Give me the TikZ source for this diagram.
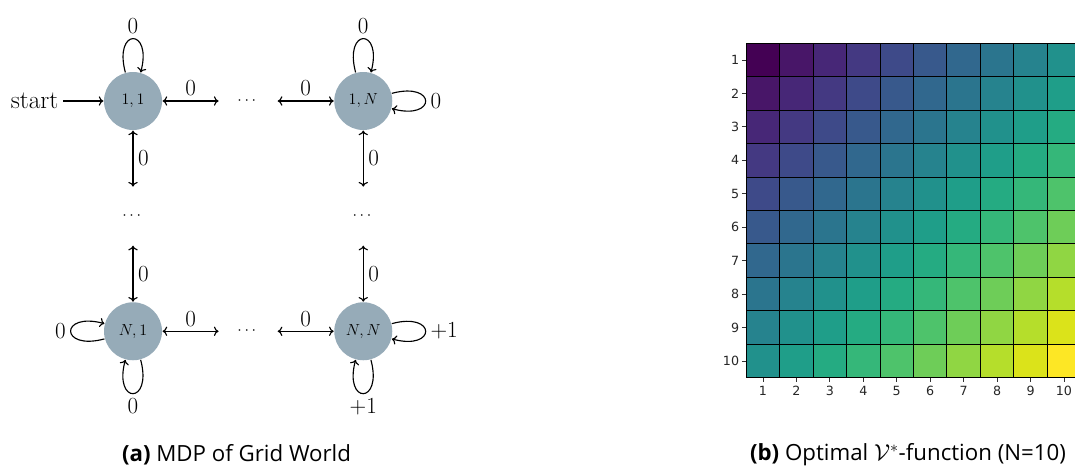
\documentclass[tikz,border=0pt]{standalone}
\usepackage{fontspec}
\usepackage{amsmath}
\usepackage{xcolor}
\usepackage{tikz}
\usetikzlibrary{arrows.meta}
\usetikzlibrary{positioning}

\newfontfamily\capfont{Open Sans}
\newfontfamily\tickfont{DejaVu Sans}

\definecolor{stategray}{RGB}{150,171,184}
\definecolor{vir0}{HTML}{440154}
\definecolor{vir1}{HTML}{481668}
\definecolor{vir2}{HTML}{472777}
\definecolor{vir3}{HTML}{443982}
\definecolor{vir4}{HTML}{3E4A89}
\definecolor{vir5}{HTML}{38598C}
\definecolor{vir6}{HTML}{31688E}
\definecolor{vir7}{HTML}{2B758E}
\definecolor{vir8}{HTML}{26838E}
\definecolor{vir9}{HTML}{21918C}
\definecolor{vir10}{HTML}{1F9E89}
\definecolor{vir11}{HTML}{25AB82}
\definecolor{vir12}{HTML}{35B779}
\definecolor{vir13}{HTML}{4EC36B}
\definecolor{vir14}{HTML}{6ECD58}
\definecolor{vir15}{HTML}{90D643}
\definecolor{vir16}{HTML}{B5DE2B}
\definecolor{vir17}{HTML}{DBE31A}
\definecolor{vir18}{HTML}{FDE725}

\tikzset{
    state/.style={circle, fill=stategray, minimum size=43.5pt, inner sep=0pt,
        font=\fontsize{11.6}{13}\selectfont},
    gapnode/.style={circle, minimum size=43.5pt, inner sep=0pt,
        font=\fontsize{11.6}{13}\selectfont},
    lbl/.style={font=\fontsize{19}{23}\selectfont},
    selfloop/.style={->, looseness=7.8, min distance=3mm},
    cell/.style={draw=black, line width=0.75pt},
    tickmark/.style={line width=0.6pt, black!80},
    ticklbl/.style={font=\tickfont\fontsize{9.5}{11}\selectfont, inner sep=1pt, black!85},
    caption/.style={font=\capfont\fontsize{16.7}{19}\selectfont}
}

\begin{document}
\begin{tikzpicture}[x=0.75pt, y=-0.75pt, line width=0.85pt,
    >={To[length=3.5pt,width=7pt]}]
    \useasboundingbox (0,0) rectangle (1075,468);

    % Etats
    \node[state] (s11) at (133,101) {$1,1$};
    \node[gapnode, right=42pt of s11] (h1) {$\cdots$};
    \node[state, right=42pt of h1] (s1N) {$1,N$};
    \node[gapnode, below=42pt of s11] (v1) {$\cdots$};
    \node[state, below=42pt of v1] (sN1) {$N,1$};
    \node[gapnode, right=42pt of sN1] (h2) {$\cdots$};
    \node[state, right=42pt of h2] (sNN) {$N,N$};
    \node[gapnode, below=42pt of s1N] (v2) {$\cdots$};
    \node[lbl, left=30pt of s11] (start) {start};

    % Transitions
    \draw[->] (start) -- (s11);
    \draw[<->] (s11) -- node[lbl, above] {$0$} (h1);
    \draw[<->] (h1) -- node[lbl, above] {$0$} (s1N);
    \draw[<->] (sN1) -- node[lbl, above] {$0$} (h2);
    \draw[<->] (h2) -- node[lbl, above] {$0$} (sNN);
    \draw[<->] (s11) -- node[lbl, right] {$0$} (v1);
    \draw[<->] (v1) -- node[lbl, right] {$0$} (sN1);
    \draw[<->] (s1N) -- node[lbl, right] {$0$} (v2);
    \draw[<->] (v2) -- node[lbl, right] {$0$} (sNN);

    % Boucles
    \draw[->] (s11) to[loop above, selfloop] node[lbl, above] {$0$} (s11);
    \draw[->] (s1N) to[loop above, selfloop] node[lbl, above] {$0$} (s1N);
    \draw[->] (s1N) to[loop right, selfloop] node[lbl, right] {$0$} (s1N);
    \draw[->] (sN1) to[loop left, selfloop] node[lbl, left] {$0$} (sN1);
    \draw[->] (sN1) to[loop below, selfloop] node[lbl, below] {$0$} (sN1);
    \draw[->] (sNN) to[loop right, selfloop] node[lbl, right] {$+1$} (sNN);
    \draw[->] (sNN) to[loop below, selfloop] node[lbl, below] {$+1$} (sNN);

    % Carte des valeurs
    \begin{scope}
        \clip (700,0) rectangle (1075,468);
        \foreach \i in {1,...,10}
            \foreach \j in {1,...,10}{
                \pgfmathtruncatemacro{\k}{\i+\j-2}
                \filldraw[cell, fill=vir\k] ({746.3+(\j-1)*33.44},{43.3+(\i-1)*33.44})
                    rectangle +(33.44,33.44);
            }
    \end{scope}

    % Graduations
    \foreach \i in {1,...,10}{
        \draw[tickmark] (741.8,{60+(\i-1)*33.44}) -- ++(4.5,0);
        \node[ticklbl, anchor=east] (row\i) at (741,{60+(\i-1)*33.44}) {\i};
        \draw[tickmark] ({763+(\i-1)*33.44},377.7) -- ++(0,4.5);
        \node[ticklbl, anchor=north] (col\i) at ({763+(\i-1)*33.44},384) {\i};
    }

    % Legendes
    \node[caption] (capa) at (236.5,455) {\textbf{(a)} MDP of Grid World};
    \node[caption] (capb) at (908,455) {\textbf{(b)} Optimal $\mathcal{V}^*$-function (N=10)};
\end{tikzpicture}
\end{document}
